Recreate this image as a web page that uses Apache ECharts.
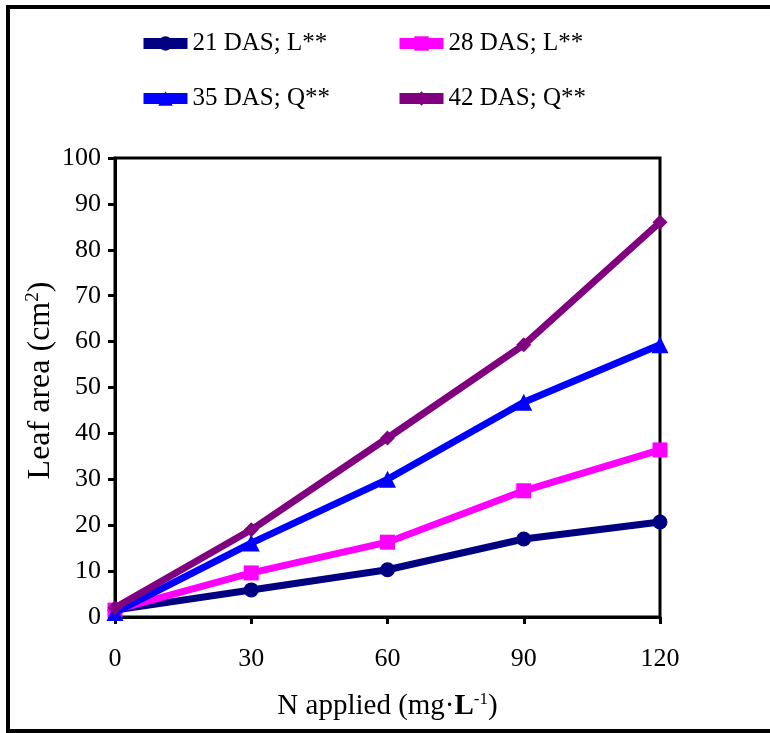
<!DOCTYPE html>
<html><head><meta charset="utf-8">
<script src="https://cdn.jsdelivr.net/npm/echarts@6/dist/echarts.min.js"></script>
<style>html,body{margin:0;padding:0;background:#fff}#c{width:770px;height:733px}</style>
</head><body><div id="c"></div>
<script>
const xValues = [0, 30, 60, 90, 120];
const seriesNames = ['21 DAS; L**', '28 DAS; L**', '35 DAS; Q**', '42 DAS; Q**'];
const das21 = [1.5, 5.9, 10.3, 17.0, 20.7];
const das28 = [1.5, 9.6, 16.3, 27.5, 36.4];
const das35 = [1.0, 16.1, 30.0, 46.8, 59.3];
const das42 = [2.0, 19.0, 39.0, 59.3, 86.0];
const colors = ['#000080', '#FF00FF', '#0000FF', '#800080'];
const symbols = ['circle', 'rect', 'triangle', 'diamond'];
const allData = [das21, das28, das35, das42];

const font = 'Liberation Serif, Times New Roman, serif';
const chart = echarts.init(document.getElementById('c'), null, {renderer: 'canvas'});

const legendPos = [[133, 26], [389, 26], [133, 81], [389, 81]];
const legends = seriesNames.map((n, i) => ({
  data: [n], left: legendPos[i][0], top: legendPos[i][1],
  itemWidth: 44, itemHeight: 18, itemGap: 4,
  lineStyle: {width: 11},
  textStyle: {fontFamily: font, fontSize: 25, color: '#000'}
}));

chart.setOption({
  animation: false,
  backgroundColor: '#fff',
  graphic: [{type: 'rect', shape: {x: 8, y: 7, width: 780, height: 724},
    style: {fill: 'none', stroke: '#000', lineWidth: 4}, z: 100}],
  legend: legends,
  grid: {left: 115, right: 110, top: 158, bottom: 116, show: true, borderColor: '#000', borderWidth: 3, backgroundColor: 'transparent'},
  xAxis: {
    type: 'value', min: 0, max: 120, interval: 30,
    name: 'N applied (mg·{b|L}{sup|-1})', nameLocation: 'middle', nameGap: 74,
    nameTextStyle: {fontFamily: font, fontSize: 29, color: '#000',
      rich: {b: {fontFamily: font, fontSize: 29, fontWeight: 'bold', color: '#000'},
             sup: {fontFamily: font, fontSize: 17, color: '#000', verticalAlign: 'top', padding: [0, 0, 14, 0]}}},
    axisLine: {lineStyle: {color: '#000', width: 3}},
    axisTick: {show: true, length: 7, lineStyle: {color: '#000', width: 3}},
    axisLabel: {fontFamily: font, fontSize: 26, color: '#000', margin: 29},
    splitLine: {show: false}
  },
  yAxis: {
    type: 'value', min: 0, max: 100, interval: 10,
    name: 'Leaf area (cm{sup|2})', nameLocation: 'middle', nameGap: 57, nameMoveOverlap: false,
    nameTextStyle: {fontFamily: font, fontSize: 32, color: '#000', padding: [0, 0, 0, 14],
      rich: {sup: {fontFamily: font, fontSize: 19, color: '#000', padding: [0, 0, 15, 0]}}},
    axisLine: {lineStyle: {color: '#000', width: 3}},
    axisTick: {show: true, length: 7, lineStyle: {color: '#000', width: 3}},
    axisLabel: {fontFamily: font, fontSize: 26, color: '#000', margin: 14},
    splitLine: {show: false}
  },
  series: allData.map((d, i) => ({
    name: seriesNames[i], type: 'line',
    data: d.map((v, j) => [xValues[j], v]),
    symbol: symbols[i], symbolSize: i === 2 ? 17 : 15, showSymbol: true,
    itemStyle: {color: colors[i]},
    lineStyle: {color: colors[i], width: 7},
    z: 2 + i
  }))
});
</script></body></html>
